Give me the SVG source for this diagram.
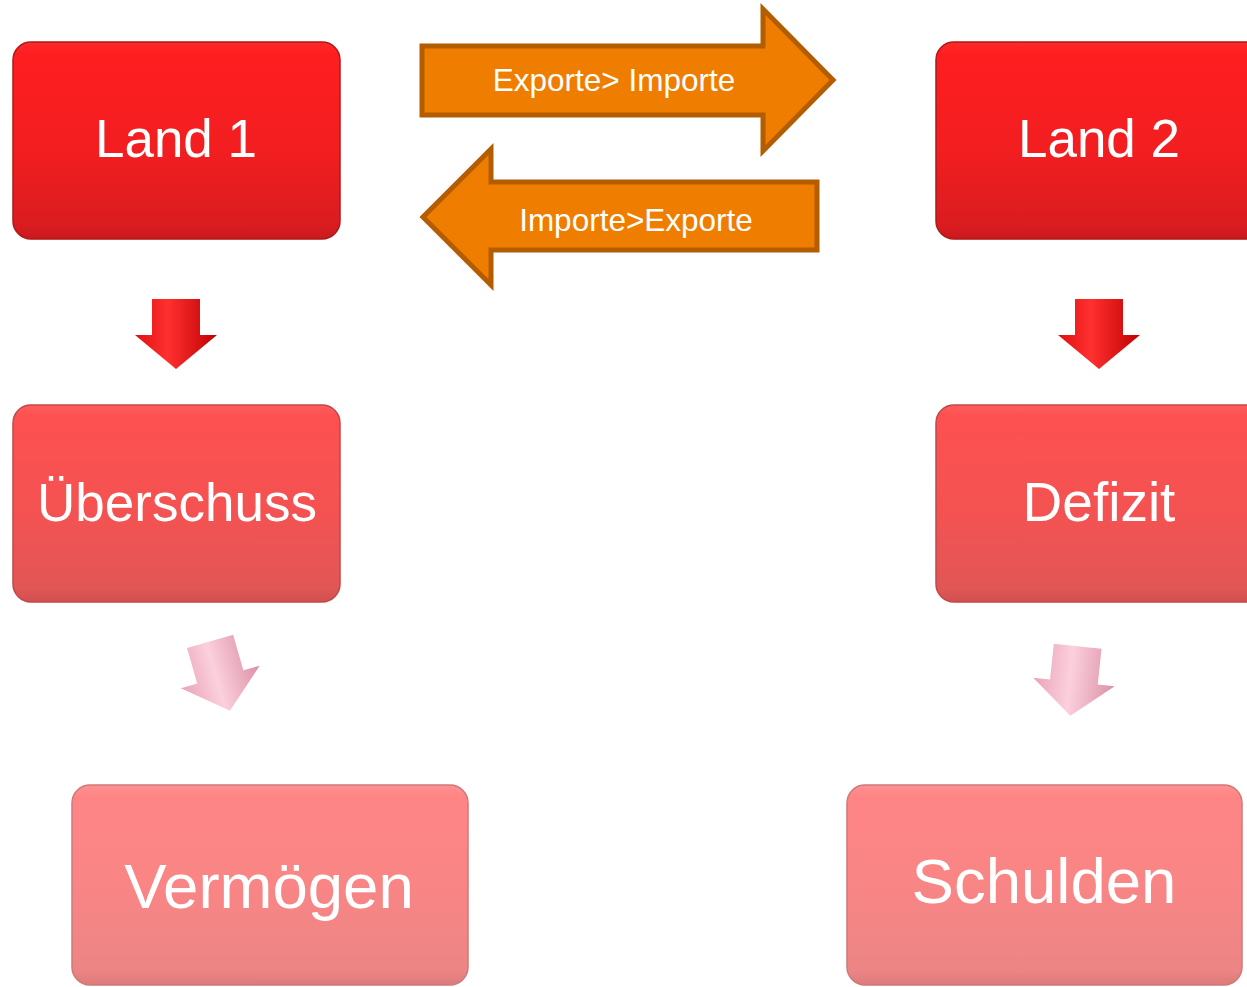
<svg xmlns="http://www.w3.org/2000/svg" width="1247" height="987" viewBox="0 0 1247 987">
<defs>
<linearGradient id="gRed" x1="0" y1="0" x2="0" y2="1">
<stop offset="0" stop-color="#ff2a2a"/><stop offset="0.06" stop-color="#fe1e20"/><stop offset="0.55" stop-color="#f21e20"/><stop offset="0.93" stop-color="#da1c20"/><stop offset="1" stop-color="#c81a1e"/>
</linearGradient>
<linearGradient id="gMid" x1="0" y1="0" x2="0" y2="1">
<stop offset="0" stop-color="#ff5c5c"/><stop offset="0.06" stop-color="#fe5050"/><stop offset="0.55" stop-color="#f45252"/><stop offset="0.93" stop-color="#e25656"/><stop offset="1" stop-color="#d05050"/>
</linearGradient>
<linearGradient id="gLight" x1="0" y1="0" x2="0" y2="1">
<stop offset="0" stop-color="#ff9090"/><stop offset="0.06" stop-color="#ff8585"/><stop offset="0.55" stop-color="#f88585"/><stop offset="0.93" stop-color="#ec8585"/><stop offset="1" stop-color="#dc7a7a"/>
</linearGradient>
<linearGradient id="gArrRed" x1="0" y1="0" x2="1" y2="0">
<stop offset="0" stop-color="#e01010"/><stop offset="0.4" stop-color="#ff3030"/><stop offset="1" stop-color="#c00000"/>
</linearGradient>
<linearGradient id="gArrPink" x1="0" y1="0" x2="1" y2="0">
<stop offset="0" stop-color="#eaa2b8"/><stop offset="0.45" stop-color="#fbd0dc"/><stop offset="1" stop-color="#dc90a6"/>
</linearGradient>
<path id="dArrow" d="M-24,-35 L24,-35 L24,1 L41,1 L0,35 L-41,1 L-24,1 Z"/>
</defs>
<style>
.box{stroke-width:1.5}
.red{fill:url(#gRed);stroke:#b01818}
.mid{fill:url(#gMid);stroke:#c04848}
.light{fill:url(#gLight);stroke:#d07878}
.lbl{font-family:"Liberation Sans",Arial,sans-serif;fill:#ffffff;text-anchor:middle}
.big{font-size:53px}
.huge{font-size:63.5px}
.small{font-size:31.5px}
.orange{fill:#ef7d00;stroke:#b35d00;stroke-width:5;stroke-linejoin:miter}
</style>
<rect width="1247" height="987" fill="#ffffff"/>
<g id="land1"><rect class="box red" x="13" y="42" width="327" height="197" rx="18"/><text class="lbl big" x="176" y="157">Land 1</text></g>
<g id="land2"><rect class="box red" x="936" y="42" width="330" height="197" rx="18"/><text class="lbl big" x="1099" y="157">Land 2</text></g>
<g id="ueberschuss"><rect class="box mid" x="13" y="405" width="327" height="197" rx="18"/><text class="lbl big" x="177" y="521">Überschuss</text></g>
<g id="defizit"><rect class="box mid" x="936" y="405" width="330" height="197" rx="18"/><text class="lbl big" x="1099" y="521" style="font-size:55px">Defizit</text></g>
<g id="vermoegen"><rect class="box light" x="72" y="785" width="396" height="200" rx="18"/><text class="lbl huge" x="269" y="908">Vermögen</text></g>
<g id="schulden"><rect class="box light" x="847" y="785" width="395" height="200" rx="18"/><text class="lbl huge" x="1044" y="903">Schulden</text></g>
<g id="connectors">
<g id="exports"><path class="orange" d="M422,46 L763,46 L763,9 L833,80 L763,151 L763,115 L422,115 Z"/><text class="lbl small" x="614" y="91">Exporte&gt; Importe</text></g>
<g id="imports"><path class="orange" d="M817,182 L491,182 L491,149 L423,217 L491,285 L491,250 L817,250 Z"/><text class="lbl small" x="636" y="231">Importe&gt;Exporte</text></g>
<use href="#dArrow" fill="url(#gArrRed)" transform="translate(176,334)"/>
<use href="#dArrow" fill="url(#gArrRed)" transform="translate(1099,334)"/>
<use href="#dArrow" fill="url(#gArrPink)" transform="translate(220,676) rotate(-16) scale(1,1.03)"/>
<use href="#dArrow" fill="url(#gArrPink)" transform="translate(1074,681) rotate(6)"/>
</g>
</svg>
